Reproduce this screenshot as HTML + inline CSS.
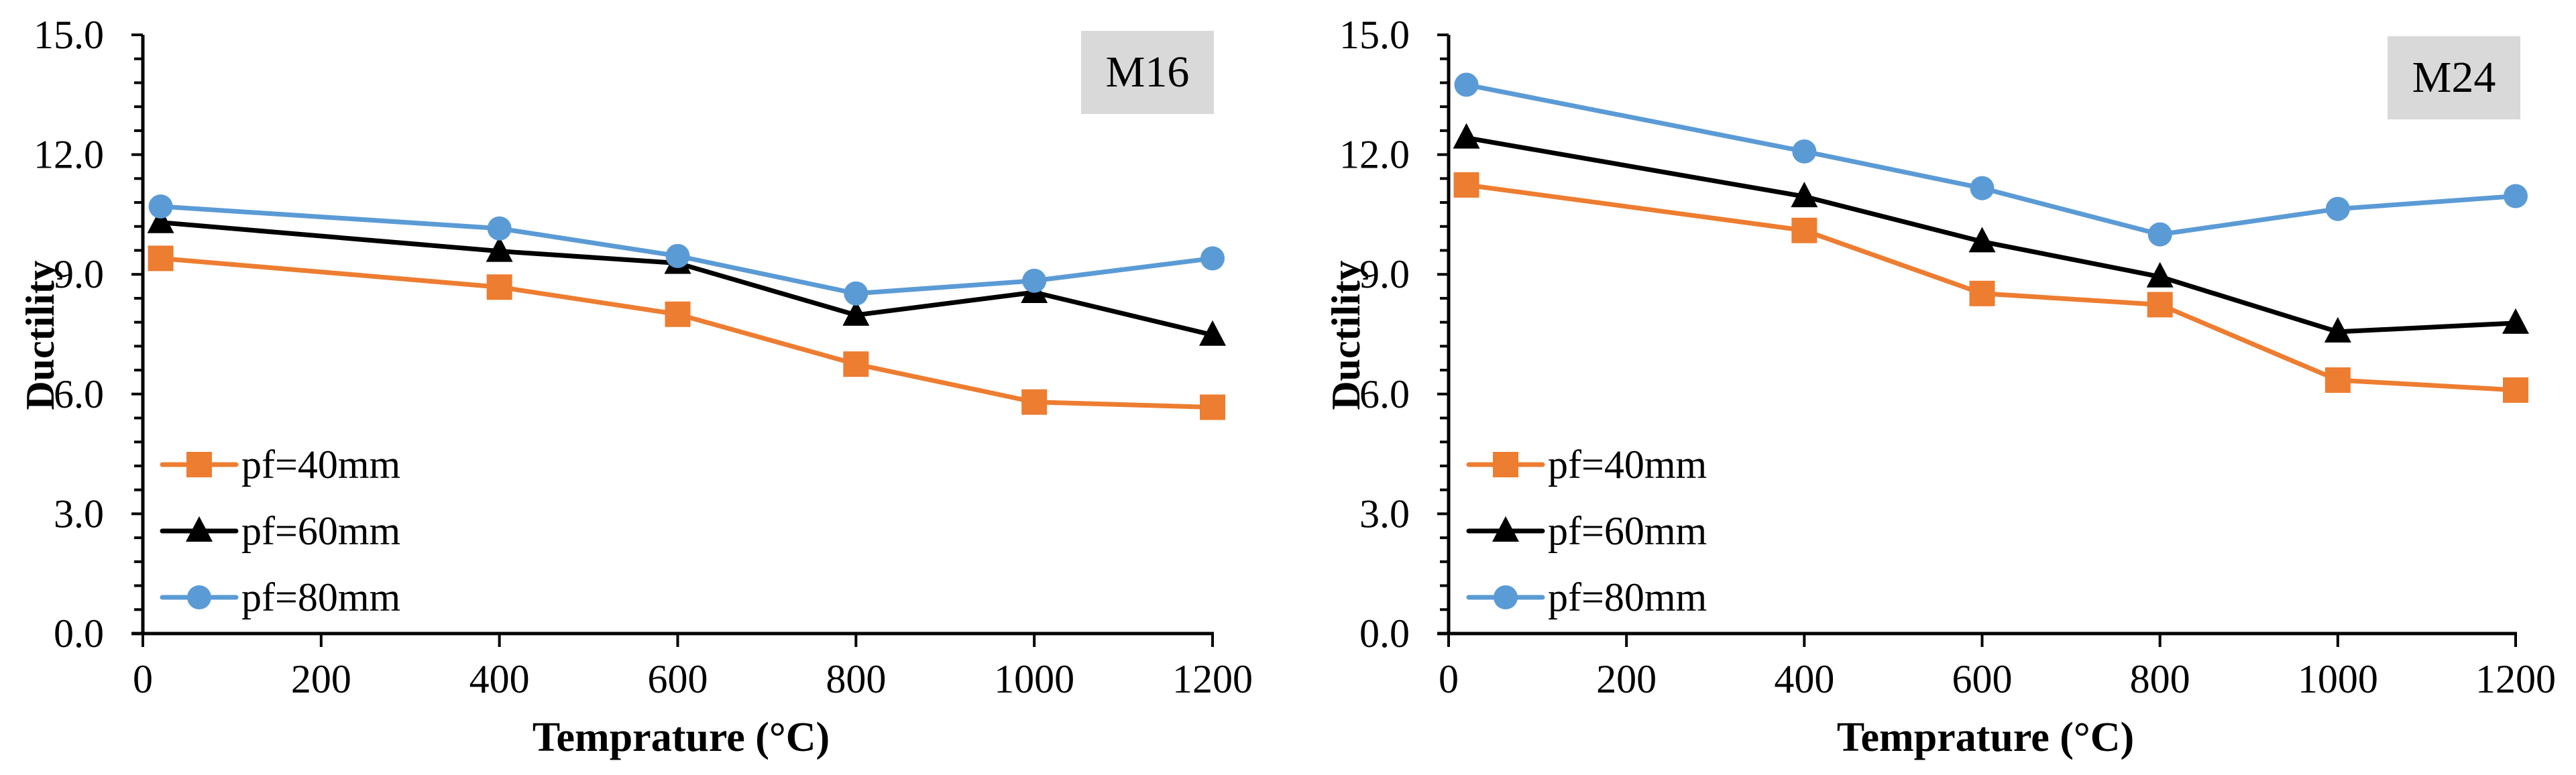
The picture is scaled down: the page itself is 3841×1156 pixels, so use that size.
<!DOCTYPE html>
<html><head><meta charset="utf-8"><style>
html,body{margin:0;padding:0;background:#fff;}
svg{display:block;font-family:"Liberation Serif",serif;}
</style></head><body>
<svg id="c" width="3841" height="1156" viewBox="0 0 3841 1156" xmlns="http://www.w3.org/2000/svg"></svg>
<script>
const temps = [20, 400, 600, 800, 1000, 1200];
const xTicks = [0, 200, 400, 600, 800, 1000, 1200];
const yTicks = [0, 3, 6, 9, 12, 15];
const seriesNames = ["pf=40mm", "pf=60mm", "pf=80mm"];
const m16_pf40 = [9.4, 8.68, 8.0, 6.75, 5.8, 5.67];
const m16_pf60 = [10.3, 9.58, 9.28, 7.98, 8.55, 7.48];
const m16_pf80 = [10.7, 10.15, 9.46, 8.52, 8.84, 9.4];
const m24_pf40 = [11.24, 10.1, 8.52, 8.24, 6.35, 6.1];
const m24_pf60 = [12.42, 10.95, 9.82, 8.94, 7.56, 7.78];
const m24_pf80 = [13.75, 12.08, 11.16, 10.0, 10.64, 10.96];

const NS = "http://www.w3.org/2000/svg";
const svg = document.getElementById('c');
function mk(tag, attrs, parent){
  const e = document.createElementNS(NS, tag);
  for (const k in attrs) e.setAttribute(k, attrs[k]);
  (parent||svg).appendChild(e);
  return e;
}
const colors = ["#ED7D31", "#000000", "#5B9BD5"];
const markers = ["square", "triangle", "circle"];

function marker(g, type, cx, cy, color, name){
  let m;
  if (type === "square") m = mk('rect', {x:cx-19, y:cy-19, width:38, height:38, fill:color}, g);
  else if (type === "triangle") m = mk('polygon', {points:`${cx},${cy-22} ${cx+20},${cy+16} ${cx-20},${cy+16}`, fill:color}, g);
  else m = mk('circle', {cx:cx, cy:cy, r:18, fill:color}, g);
  
  
}

function chart(id, x0, x1, label, box, series, legX){
  const y0 = 945, y1 = 52;
  const X = v => x0 + (v/1200)*(x1-x0);
  const Y = v => y0 - (v/15)*(y0-y1);
  const g = mk('g', {});
  
  
  // minor y ticks
  for (let i=0;i<=25;i++){
    const v = i*0.6;
    const major = Math.abs(v/3 - Math.round(v/3))<1e-6;
    const t = mk('line', {x1:x0-(major?17:13), x2:x0, y1:Y(v), y2:Y(v), stroke:'#000','stroke-width':4}, g);
    
    
  }
  yTicks.forEach(v=>{
    const t = mk('text', {x:x0-58, y:Y(v)+20, 'font-size':60, 'text-anchor':'end'}, g);
    t.textContent = v.toFixed(1);
    
    
  });
  xTicks.forEach(v=>{
    const t = mk('line', {x1:X(v), x2:X(v), y1:y0, y2:y0+20, stroke:'#000','stroke-width':4}, g);
    
    
    const l = mk('text', {x:X(v), y:1033, 'font-size':60, 'text-anchor':'middle'}, g);
    l.textContent = v;
    
    
  });
  const ya = mk('line', {x1:x0, x2:x0, y1:y1, y2:y0+2, stroke:'#000','stroke-width':5}, g);
  
  
  const xa = mk('line', {x1:x0-17, x2:x1+2, y1:y0, y2:y0, stroke:'#000','stroke-width':5}, g);
  
  
  // titles
  const xt = mk('text', {x:(x0+x1)/2+5, y:1120, 'font-size':62, 'font-weight':'bold', 'text-anchor':'middle'}, g);
  xt.textContent = 'Temprature (°C)';
  
  
  const yx = x0-133, yy = 500;
  const yt = mk('text', {x:yx, y:yy, 'font-size':60, 'font-weight':'bold', 'text-anchor':'middle', transform:`rotate(-90 ${yx} ${yy})`}, g);
  yt.textContent = 'Ductility';
  
  
  // label box
  const b = mk('rect', {x:box[0], y:box[1], width:198, height:124, fill:'#D9D9D9'}, g);
  
  
  const bt = mk('text', {x:box[0]+99, y:box[1]+83, 'font-size':66, 'text-anchor':'middle'}, g);
  bt.textContent = label;
  
  
  // series
  series.forEach((vals, si)=>{
    const sg = mk('g', {}, g);
    
    
    const pts = vals.map((v,i)=>X(temps[i])+','+Y(v)).join(' ');
    const pl = mk('polyline', {points:pts, fill:'none', stroke:colors[si], 'stroke-width':7, 'stroke-linejoin':'round'}, sg);
    
    
    vals.forEach((v,i)=>marker(sg, markers[si], X(temps[i]), Y(v), colors[si], 'data-point'));
    // legend
    const ly = 693 + si*99;
    const lg = mk('g', {}, g);
    
    
    const ll = mk('line', {x1:legX, x2:legX+110, y1:ly, y2:ly, stroke:colors[si], 'stroke-width':7, 'stroke-linecap':'round'}, lg);
    
    
    marker(lg, markers[si], legX+55, ly, colors[si], 'legend-marker');
    const lt = mk('text', {x:legX+118, y:ly+20, 'font-size':60}, lg);
    lt.textContent = seriesNames[si];
    
    
  });
}
chart('chart-m16', 213, 1808, 'M16', [1612, 46], [m16_pf40, m16_pf60, m16_pf80], 242);
chart('chart-m24', 2160, 3751, 'M24', [3560, 54], [m24_pf40, m24_pf60, m24_pf80], 2190);
</script>
</body></html>
